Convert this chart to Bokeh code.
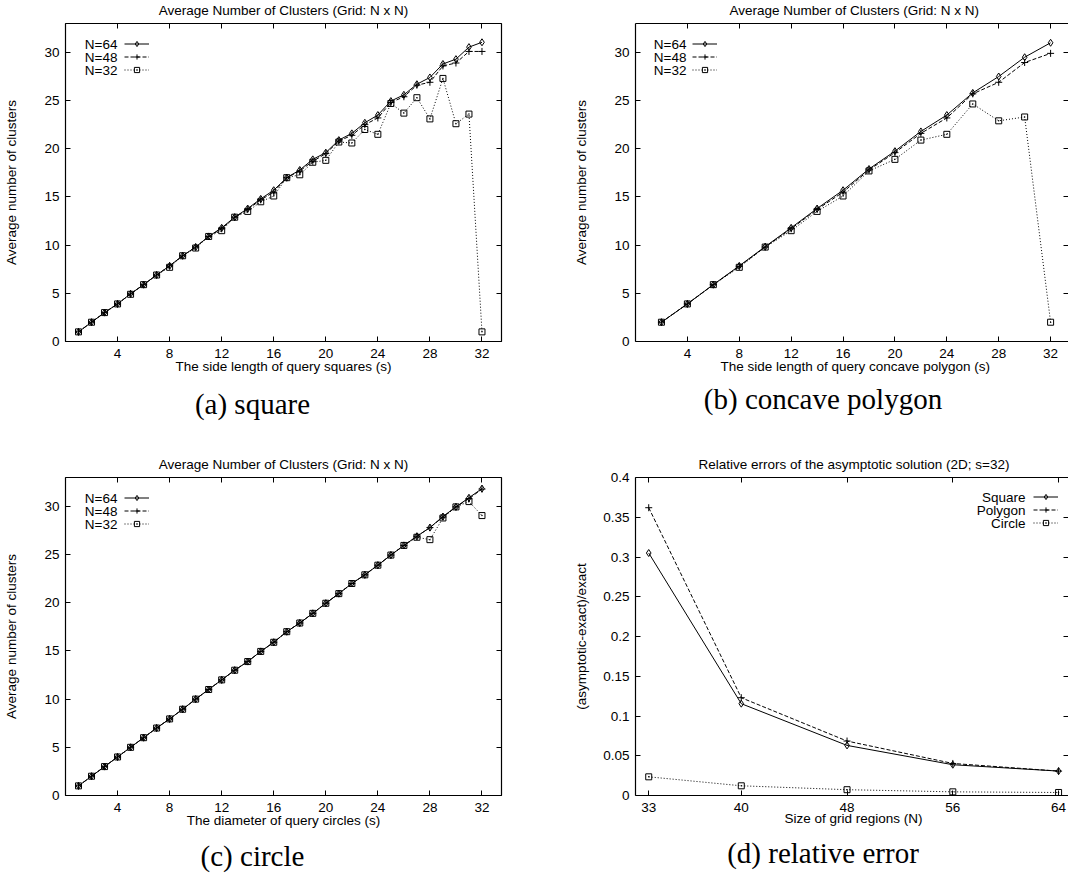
import math
from bokeh.plotting import figure
from bokeh.layouts import column, row
from bokeh.models import (Range1d, FixedTicker, LinearAxis, Legend, LegendItem,
                          Label, Title, Div, CustomJSTickFormatter)
from bokeh.core.properties import value
from bokeh.embed import file_html
from bokeh.resources import INLINE

SANS = "Liberation Sans"
SERIF = "Liberation Serif"
FS = "13.5px"

# ---------------- data ----------------
# (a) square
a_s = list(range(1, 33))
a_n64 = [1.0, 2.0, 3.0, 3.9, 4.95, 5.9, 6.9, 7.85, 8.9, 9.8, 10.9, 11.8, 12.9, 13.8, 14.8, 15.7,
         17.0, 17.8, 18.9, 19.6, 20.9, 21.6, 22.7, 23.5, 24.95, 25.6, 26.7, 27.4, 28.8, 29.3, 30.55, 31.05]
a_n48 = [1.0, 2.0, 3.0, 3.9, 4.95, 5.9, 6.9, 7.85, 8.9, 9.8, 10.9, 11.7, 12.9, 13.7, 14.7, 15.5,
         17.0, 17.7, 18.7, 19.5, 20.8, 21.4, 22.5, 23.2, 24.8, 25.4, 26.6, 26.9, 28.6, 28.9, 30.1, 30.1]
a_n32 = [1.0, 2.0, 3.0, 3.9, 4.9, 5.9, 6.9, 7.7, 8.9, 9.7, 10.9, 11.5, 12.9, 13.5, 14.5, 15.1,
         17.0, 17.3, 18.6, 18.8, 20.7, 20.6, 22.0, 21.5, 24.7, 23.7, 25.3, 23.1, 27.3, 22.6, 23.6, 1.0]

# (b) concave polygon
b_s = [2, 4, 6, 8, 10, 12, 14, 16, 18, 20, 22, 24, 26, 28, 30, 32]
b_n64 = [2.0, 3.9, 5.9, 7.85, 9.85, 11.8, 13.8, 15.7, 17.9, 19.75, 21.8, 23.5, 25.8, 27.5, 29.5, 31.0]
b_n48 = [2.0, 3.9, 5.9, 7.8, 9.8, 11.7, 13.7, 15.5, 17.8, 19.6, 21.6, 23.2, 25.7, 26.9, 28.95, 29.9]
b_n32 = [2.0, 3.9, 5.9, 7.7, 9.8, 11.5, 13.5, 15.1, 17.7, 18.9, 20.9, 21.5, 24.65, 22.9, 23.3, 2.0]

# (c) circle
c_s = list(range(1, 33))
c_n64 = [1.0, 2.0, 3.0, 4.0, 5.0, 6.0, 7.0, 7.95, 8.95, 10.0, 11.0, 12.0, 13.0, 13.9, 14.95, 15.9,
         17.0, 17.9, 18.9, 19.95, 20.95, 22.0, 22.9, 23.9, 24.95, 25.95, 26.9, 27.8, 28.95, 29.95, 30.9, 31.85]
c_n48 = [1.0, 2.0, 3.0, 4.0, 5.0, 6.0, 7.0, 7.95, 8.95, 10.0, 11.0, 12.0, 13.0, 13.9, 14.95, 15.9,
         17.0, 17.9, 18.9, 19.95, 20.95, 22.0, 22.9, 23.9, 24.95, 25.95, 26.9, 27.8, 28.9, 29.95, 30.8, 31.8]
c_n32 = [1.0, 2.0, 3.0, 4.0, 5.0, 6.0, 7.0, 7.95, 8.95, 10.0, 11.0, 12.0, 13.0, 13.9, 14.95, 15.9,
         17.0, 17.9, 18.9, 19.95, 20.95, 22.0, 22.9, 23.9, 24.95, 25.95, 26.8, 26.55, 28.8, 29.95, 30.5, 29.05]

# (d) relative error
d_n = [33, 40, 48, 56, 64]
d_square = [0.305, 0.1155, 0.063, 0.0387, 0.0307]
d_polygon = [0.362, 0.123, 0.0685, 0.0403, 0.0307]
d_circle = [0.0235, 0.0122, 0.0073, 0.0046, 0.0038]

s_ticks = [4, 8, 12, 16, 20, 24, 28, 32]
clu_ticks = [0, 5, 10, 15, 20, 25, 30]
d_xticks = [33, 40, 48, 56, 64]
d_yticks = [0, 0.05, 0.1, 0.15, 0.2, 0.25, 0.3, 0.35, 0.4]

grid_labels = ["N=64", "N=48", "N=32"]
shape_labels = ["Square", "Polygon", "Circle"]

TITLE_GRID = "Average Number of Clusters (Grid: N x N)"
TITLE_ERR = "Relative errors of the asymptotic solution (2D; s=32)"
YLAB_CLU = "Average number of clusters"

STYLES = [("solid", "diamond", 7), ("4 2", "cross", 7), ("1 2", "square_dot", 6)]


def style_axis(ax, show_labels=True, show_line=True):
    ax.axis_line_color = "black" if show_line else None
    ax.axis_line_width = 1.2
    ax.major_tick_in = 5
    ax.major_tick_out = 0
    ax.major_tick_line_color = "black"
    ax.major_tick_line_width = 1
    ax.minor_tick_line_color = None
    ax.major_label_text_font = SANS
    if show_labels:
        ax.major_label_text_font_size = FS
        ax.major_label_text_color = "black"
    else:
        ax.major_label_text_font_size = "0px"
        ax.major_label_text_color = None
        ax.major_label_standoff = 0


def add_text(p, x, y, text, align="center"):
    p.add_layout(Label(x=x, y=y, x_units="screen", y_units="screen", text=text,
                       text_align=align, text_baseline="middle",
                       text_font=SANS, text_font_size=FS, text_color="black"))


def make_panel(width, height, bl, br, bt, bb, xr, yr, xticks, yticks, full_frame,
               title, title_off, xlabel, xlabel_off, xlabel_standoff, ylabel, ylabel_standoff,
               xs, ys, leg_labels, leg_x, leg_text_x, leg_row0, yformatter=None):
    fh = height - bt - bb
    p = figure(width=width, height=height, min_border_left=bl, min_border_right=br,
               min_border_top=bt, min_border_bottom=bb,
               x_range=Range1d(*xr), y_range=Range1d(*yr),
               output_backend="svg", toolbar_location=None, tools="")
    p.grid.visible = False
    p.background_fill_color = "white"
    p.border_fill_color = "white"
    if full_frame:
        p.outline_line_color = "black"
        p.outline_line_width = 1.2
    else:
        p.outline_line_color = None

    xa = p.xaxis[0]
    ya = p.yaxis[0]
    xa.ticker = FixedTicker(ticks=xticks)
    ya.ticker = FixedTicker(ticks=yticks)
    style_axis(xa, True, not full_frame)
    style_axis(ya, True, not full_frame)
    xa.major_label_standoff = 7
    ya.major_label_standoff = 6
    ya.axis_label = ylabel
    ya.axis_label_text_font = SANS
    ya.axis_label_text_font_size = FS
    ya.axis_label_text_font_style = "normal"
    ya.axis_label_text_color = "black"
    ya.axis_label_standoff = ylabel_standoff
    if yformatter is not None:
        ya.formatter = yformatter

    top = LinearAxis(ticker=FixedTicker(ticks=xticks))
    style_axis(top, False, not full_frame)
    p.add_layout(top, "above")
    right = LinearAxis(ticker=FixedTicker(ticks=yticks))
    style_axis(right, False, False)
    p.add_layout(right, "right")

    # title above the frame
    p.title.text = title
    p.title.text_font = SANS
    p.title.text_font_size = FS
    p.title.text_font_style = "normal"
    p.title.text_color = "black"
    p.title.vertical_align = "top"
    p.title.standoff = 5.5
    if title_off is None:
        p.title.align = "center"
    else:
        p.title.align = "left"
        p.title.offset = title_off

    # x label below the axis
    xt = Title(text=xlabel, text_font=SANS, text_font_size=FS, text_font_style="normal",
               text_color="black", vertical_align="top", standoff=xlabel_standoff)
    if xlabel_off is None:
        xt.align = "center"
    else:
        xt.align = "left"
        xt.offset = xlabel_off
    p.add_layout(xt, "below")

    renderers = []
    for (x, y), (dash, marker, size) in zip(zip(xs, ys), STYLES):
        lr = p.line(x, y, line_color="black", line_width=1, line_dash=dash)
        mr = p.scatter(x, y, marker=marker, size=size, line_color="black",
                       fill_color=None, line_width=1)
        renderers.append((lr, mr))

    row_h = 13
    n = len(leg_labels)
    leg_top = leg_row0 - row_h / 2.0
    leg_y = fh - leg_top - n * row_h
    items = [LegendItem(label=value(" "), renderers=[lr, mr]) for (lr, mr) in renderers]
    leg = Legend(items=items, location=(leg_x, round(leg_y)), glyph_width=25,
                 glyph_height=row_h, label_height=row_h, spacing=0, padding=0, margin=0,
                 label_standoff=0, label_text_font_size="0px", label_text_color=None,
                 label_width=0, border_line_color=None, background_fill_alpha=0)
    p.add_layout(leg)
    for i, lab in enumerate(leg_labels):
        add_text(p, leg_text_x, fh - leg_row0 - i * row_h, lab, align="right")
    return p


def caption(text, width, height, pad_top, shift):
    html = ('<div style="font-family: \'Liberation Serif\', serif; font-size: 29px; '
            'line-height: 29px; color: black; white-space: nowrap; text-align: center; '
            'width: %dpx; position: relative; left: %.1fpx; padding-top: %.1fpx; margin: 0;">%s</div>'
            % (width, shift, pad_top, text))
    return Div(text=html, width=width, height=height, margin=0,
               styles={"overflow": "visible"})


FIG_H = 381   # 23 top + 318 frame + 40 bottom
BT, BB = 23, 40

pa = make_panel(534, FIG_H, 65, 33, BT, BB, (0, 33.5), (0, 33), s_ticks, clu_ticks, True,
                TITLE_GRID, None, "The side length of query squares (s)", None, -3, YLAB_CLU, 22,
                [a_s, a_s, a_s], [a_n64, a_n48, a_n32], grid_labels, 59, 52, 20.8)

pb = make_panel(534, FIG_H, 101, 0, BT, BB, (0, 33.38), (0, 33), s_ticks, clu_ticks, False,
                TITLE_GRID, 94, "The side length of query concave polygon (s)", 85, -3, YLAB_CLU, 22,
                [b_s, b_s, b_s], [b_n64, b_n48, b_n32], grid_labels, 57, 51, 20.8)

pc = make_panel(534, FIG_H, 65, 33, BT, BB, (0, 33.5), (0, 33), s_ticks, clu_ticks, True,
                TITLE_GRID, None, "The diameter of query circles (s)", None, -3, YLAB_CLU, 22,
                [c_s, c_s, c_s], [c_n64, c_n48, c_n32], grid_labels, 59, 52, 20.8)

pd = make_panel(534, FIG_H, 101, 0, BT, BB, (32, 64.75), (0, 0.4), d_xticks, d_yticks, False,
                TITLE_ERR, 63, "Size of grid regions (N)", 149, -7, "(asymptotic-exact)/exact", 11,
                [d_n, d_n, d_n], [d_square, d_polygon, d_circle], shape_labels, 398, 390, 19.5,
                yformatter=CustomJSTickFormatter(code="return String(tick)"))

cap_a = caption("(a) square", 534, 73, 8.75, -14.5)
cap_b = caption("(b) concave polygon", 534, 73, 3.75, 22)
cap_c = caption("(c) circle", 534, 37, 6.75, -14.5)
cap_d = caption("(d) relative error", 534, 37, 3.75, 22)

layout = column(row(pa, pb, spacing=0), row(cap_a, cap_b, spacing=0),
                row(pc, pd, spacing=0), row(cap_c, cap_d, spacing=0), spacing=0)

open("out.html", "w").write(file_html(layout, INLINE))
